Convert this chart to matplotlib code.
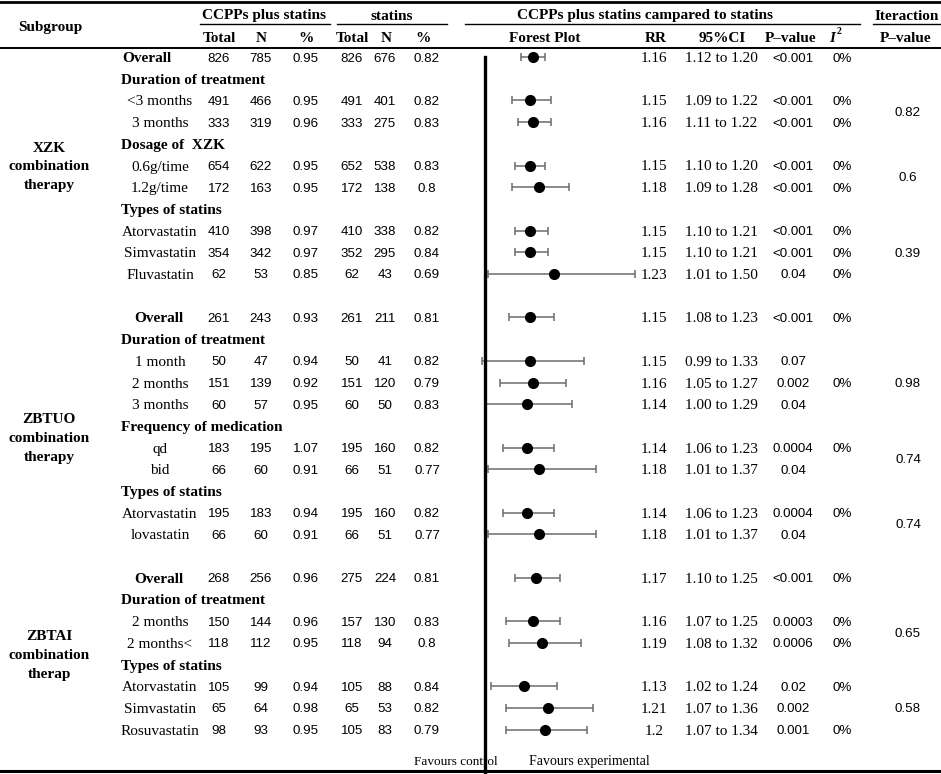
import matplotlib.pyplot as plt
import numpy as np

# ---- table data ----
row_labels = ["Overall", "Duration of treatment", "<3 months", "3 months", "Dosage of  XZK",
              "0.6g/time", "1.2g/time", "Types of statins", "Atorvastatin", "Simvastatin",
              "Fluvastatin", "",
              "Overall", "Duration of treatment", "1 month", "2 months", "3 months",
              "Frequency of medication", "qd", "bid", "Types of statins", "Atorvastatin",
              "lovastatin", "",
              "Overall", "Duration of treatment", "2 months", "2 months<", "Types of statins",
              "Atorvastatin", "Simvastatin", "Rosuvastatin"]
header_rows = [1, 4, 7, 13, 17, 20, 25, 28]
data_rows = [0, 2, 3, 5, 6, 8, 9, 10, 12, 14, 15, 16, 18, 19, 21, 22, 24, 26, 27, 29, 30, 31]

exp_total = [826, 491, 333, 654, 172, 410, 354, 62, 261, 50, 151, 60, 183, 66, 195, 66, 268, 150, 118, 105, 65, 98]
exp_n = [785, 466, 319, 622, 163, 398, 342, 53, 243, 47, 139, 57, 195, 60, 183, 60, 256, 144, 112, 99, 64, 93]
exp_pct = ["0.95", "0.95", "0.96", "0.95", "0.95", "0.97", "0.97", "0.85", "0.93", "0.94", "0.92",
           "0.95", "1.07", "0.91", "0.94", "0.91", "0.96", "0.96", "0.95", "0.94", "0.98", "0.95"]
ctl_total = [826, 491, 333, 652, 172, 410, 352, 62, 261, 50, 151, 60, 195, 66, 195, 66, 275, 157, 118, 105, 65, 105]
ctl_n = [676, 401, 275, 538, 138, 338, 295, 43, 211, 41, 120, 50, 160, 51, 160, 51, 224, 130, 94, 88, 53, 83]
ctl_pct = ["0.82", "0.82", "0.83", "0.83", "0.8", "0.82", "0.84", "0.69", "0.81", "0.82", "0.79",
           "0.83", "0.82", "0.77", "0.82", "0.77", "0.81", "0.83", "0.8", "0.84", "0.82", "0.79"]

rr = [1.16, 1.15, 1.16, 1.15, 1.18, 1.15, 1.15, 1.23, 1.15, 1.15, 1.16, 1.14, 1.14, 1.18, 1.14, 1.18,
      1.17, 1.16, 1.19, 1.13, 1.21, 1.2]
ci_lo = [1.12, 1.09, 1.11, 1.10, 1.09, 1.10, 1.10, 1.01, 1.08, 0.99, 1.05, 1.00, 1.06, 1.01, 1.06, 1.01,
         1.10, 1.07, 1.08, 1.02, 1.07, 1.07]
ci_hi = [1.20, 1.22, 1.22, 1.20, 1.28, 1.21, 1.21, 1.50, 1.23, 1.33, 1.27, 1.29, 1.23, 1.37, 1.23, 1.37,
         1.25, 1.25, 1.32, 1.24, 1.36, 1.34]
p_val = ["<0.001", "<0.001", "<0.001", "<0.001", "<0.001", "<0.001", "<0.001", "0.04",
         "<0.001", "0.07", "0.002", "0.04", "0.0004", "0.04", "0.0004", "0.04",
         "<0.001", "0.0003", "0.0006", "0.02", "0.002", "0.001"]
i_sq = ["0%"] * 8 + ["0%", "", "0%", "", "0%", "", "0%", ""] + ["0%", "0%", "0%", "0%", "", "0%"]

inter_p = ["0.82", "0.6", "0.39", "0.98", "0.74", "0.74", "0.65", "0.58"]
inter_rows = [(2, 3), (5, 6), (8, 10), (14, 16), (18, 19), (21, 22), (26, 27), (29, 31)]

groups = ["XZK\ncombination\ntherapy", "ZBTUO\ncombination\ntherapy", "ZBTAI\ncombination\ntherap"]
group_rows = [5, 17.5, 27.5]

SERIF = "Liberation Serif"
SANS = "Liberation Sans"
y0, dy = 58.5, 21.7


def ry(i):
    return y0 + i * dy


fig = plt.figure(figsize=(9.41, 7.74), dpi=100)
ax = fig.add_axes([0, 0, 1, 1])
ax.set_xlim(0, 941)
ax.set_ylim(774, 0)
ax.axis("off")

# header
hb = dict(family=SERIF, fontsize=11, fontweight="bold", ha="center", va="center")
ax.text(50, 27, "Subgroup", **hb)
ax.text(264, 16, "CCPPs plus statins", **hb)
ax.text(392, 16, "statins", **hb)
ax.text(645, 16, "CCPPs plus statins campared to statins", **hb)
ax.text(907, 16, "Iteraction", **hb)
for x, s in zip([219, 261, 306, 352, 386, 423, 545, 656, 722, 791, 906],
                ["Total", "N", "%", "Total", "N", "%", "Forest Plot", "RR", "95%CI", "P\u2013value", "P\u2013value"]):
    ax.text(x, 38, s, **hb)
ax.text(832, 38, "I", family=SERIF, fontsize=11, fontweight="bold", fontstyle="italic",
        ha="center", va="center")
ax.text(839, 31, "2", family=SERIF, fontsize=7, fontweight="bold", ha="center", va="center")

ax.plot([0, 941], [2, 2], color="black", lw=2)
for a, b in [(200, 330), (337, 447), (465, 860), (873, 941)]:
    ax.plot([a, b], [24, 24], color="black", lw=1)
ax.plot([0, 941], [48, 48], color="black", lw=1.4)
ax.plot([0, 941], [771, 771], color="black", lw=2.2)

# group labels
for g, r in zip(groups, group_rows):
    ax.text(49, ry(r), g, family=SERIF, fontsize=11, fontweight="bold",
            ha="center", va="center", linespacing=1.6)

# subgroup labels
for i, lab in enumerate(row_labels):
    if not lab:
        continue
    if i in header_rows:
        ax.text(121, ry(i), lab, family=SERIF, fontsize=11, fontweight="bold", ha="left", va="center")
    elif i == 0:
        ax.text(122, ry(i), lab, family=SERIF, fontsize=11, fontweight="bold", ha="left", va="center")
    elif lab == "Overall":
        ax.text(159, ry(i), lab, family=SERIF, fontsize=11, fontweight="bold", ha="center", va="center")
    else:
        ax.text(160, ry(i), lab, family=SERIF, fontsize=11, ha="center", va="center")

num = dict(family=SANS, fontsize=9.6, ha="center", va="center")
for k, i in enumerate(data_rows):
    y = ry(i)
    ax.text(219, y, str(exp_total[k]), **num)
    ax.text(261, y, str(exp_n[k]), **num)
    ax.text(306, y, exp_pct[k], **num)
    ax.text(352, y, str(ctl_total[k]), **num)
    ax.text(385, y, str(ctl_n[k]), **num)
    ax.text(427, y, ctl_pct[k], **num)
    ax.text(654, y, f"{rr[k]:g}", family=SERIF, fontsize=11, ha="center", va="center")
    ax.text(721, y, f"{ci_lo[k]:.2f} to {ci_hi[k]:.2f}", family=SERIF, fontsize=11, ha="center", va="center")
    ax.text(793, y, p_val[k], **num)
    if i_sq[k]:
        ax.text(842, y, i_sq[k], **num)

for p, rows in zip(inter_p, inter_rows):
    ax.text(908, (ry(rows[0]) + ry(rows[1])) / 2, p, **num)

ax.text(456, 762, "Favours control", family=SERIF, fontsize=9.5, ha="center", va="center")
ax.text(589, 762, "Favours experimental", family=SERIF, fontsize=10, ha="center", va="center")

# forest plot on its own RR scale (RR = 1 at x = 485 px, 300 px per unit)
fx = fig.add_axes([0, 0, 1, 1])
fx.set_xlim(1 - 485 / 300, 1 + 456 / 300)
fx.set_ylim(774, 0)
fx.axis("off")
fx.patch.set_alpha(0)
rr_a = np.array(rr)
ys = np.array([ry(i) - 1.5 for i in data_rows])
fx.errorbar(rr_a, ys, xerr=[rr_a - np.array(ci_lo), np.array(ci_hi) - rr_a], fmt="o",
            color="black", ecolor="#6b6b6b", elinewidth=1.1, capsize=3, capthick=1.1, markersize=7)
fx.plot([1, 1], [57, 774], color="black", lw=2.4)

fig.savefig("out.png", dpi=100)
